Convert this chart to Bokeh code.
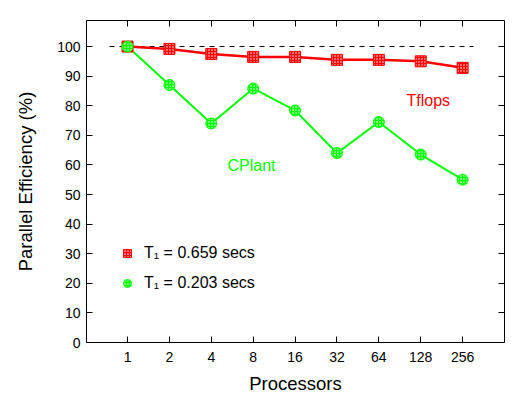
from bokeh.plotting import figure
from bokeh.models import (Range1d, FixedTicker, LinearAxis, Legend, LegendItem,
                          Label, ColumnDataSource)
from bokeh.embed import file_html
from bokeh.resources import INLINE

processors = ["1", "2", "4", "8", "16", "32", "64", "128", "256"]
tflops = [100, 99.2, 97.5, 96.5, 96.5, 95.5, 95.5, 95.0, 92.8]
cplant = [100, 87.0, 74.0, 85.8, 78.4, 64.0, 74.5, 63.5, 55.0]
ideal_x = [-0.43, 8.26]
ideal_y = [100, 100]
y_ticks = [0, 10, 20, 30, 40, 50, 60, 70, 80, 90, 100]
legend_labels = ["T\u2081 = 0.659 secs", "T\u2081 = 0.203 secs"]

xpos = list(range(len(processors)))
FONT = "Liberation Sans"
RED = "#ff0000"
GREEN = "#00ff00"

p = figure(width=530, height=398, output_backend="svg", toolbar_location=None,
           x_range=Range1d(-0.98, 9.0), y_range=Range1d(0, 108.8),
           min_border_left=86, min_border_right=26, min_border_top=20,
           min_border_bottom=56)
p.grid.visible = False
p.outline_line_color = "black"
p.outline_line_width = 1
p.background_fill_color = "white"
p.border_fill_color = "white"

p.line(ideal_x, ideal_y, line_color="black", line_dash="5 5", line_width=1)

src = ColumnDataSource(dict(x=xpos, t=tflops, c=cplant))
p.line("x", "t", source=src, line_color=RED, line_width=2.5)
p.line("x", "c", source=src, line_color=GREEN, line_width=2)
r_t = p.scatter("x", "t", source=src, marker="square", size=11, fill_color=RED,
                line_color=RED, hatch_pattern=".", hatch_color="white",
                hatch_scale=3, hatch_weight=1)
r_c = p.scatter("x", "c", source=src, marker="circle", size=11, fill_color=GREEN,
                line_color=GREEN, hatch_pattern=".", hatch_color="white",
                hatch_scale=3, hatch_weight=1)

# axes
xa = p.xaxis[0]
xa.ticker = FixedTicker(ticks=xpos)
xa.major_label_overrides = {i: s for i, s in enumerate(processors)}
ya = p.yaxis[0]
ya.ticker = FixedTicker(ticks=y_ticks)
for ax in (xa, ya):
    ax.major_tick_in = 6
    ax.major_tick_out = 0
    ax.minor_tick_line_color = None
    ax.axis_line_color = None
    ax.major_label_text_font = FONT
    ax.major_label_text_font_size = "14px"
    ax.major_label_text_color = "black"
    ax.axis_label_text_font = FONT
    ax.axis_label_text_font_size = "18.5px"
    ax.axis_label_text_font_style = "normal"
    ax.axis_label_text_color = "black"
xa.axis_label = "Processors"
xa.major_label_standoff = 9
xa.axis_label_standoff = 8
ya.axis_label = "Parallel Efficiency (%)"
ya.major_label_standoff = 6
ya.axis_label_standoff = 18

top = LinearAxis(ticker=FixedTicker(ticks=xpos),
                 major_label_overrides={i: "" for i in xpos},
                 major_tick_in=6, major_tick_out=0, minor_tick_line_color=None,
                 axis_line_color=None)
right = LinearAxis(ticker=FixedTicker(ticks=y_ticks),
                   major_label_overrides={t: "" for t in y_ticks},
                   major_tick_in=6, major_tick_out=0, minor_tick_line_color=None,
                   axis_line_color=None)
p.add_layout(top, "above")
p.add_layout(right, "right")

legend = Legend(items=[LegendItem(label=legend_labels[0], renderers=[r_t]),
                       LegendItem(label=legend_labels[1], renderers=[r_c])],
                location=(31, 49), padding=0, margin=0, spacing=10,
                glyph_width=20, glyph_height=20, label_standoff=7,
                label_text_font=FONT, label_text_font_size="16px",
                label_text_color="black",
                border_line_color=None, background_fill_alpha=0)
p.add_layout(legend)

p.add_layout(Label(x=7.18, y=81.8, text="Tflops", text_color=RED, text_font=FONT,
                   text_font_size="16px", text_align="center", text_baseline="middle"))
p.add_layout(Label(x=2.96, y=59.9, text="CPlant", text_color=GREEN, text_font=FONT,
                   text_font_size="16px", text_align="center", text_baseline="middle"))

open("out.html", "w").write(file_html(p, INLINE))
